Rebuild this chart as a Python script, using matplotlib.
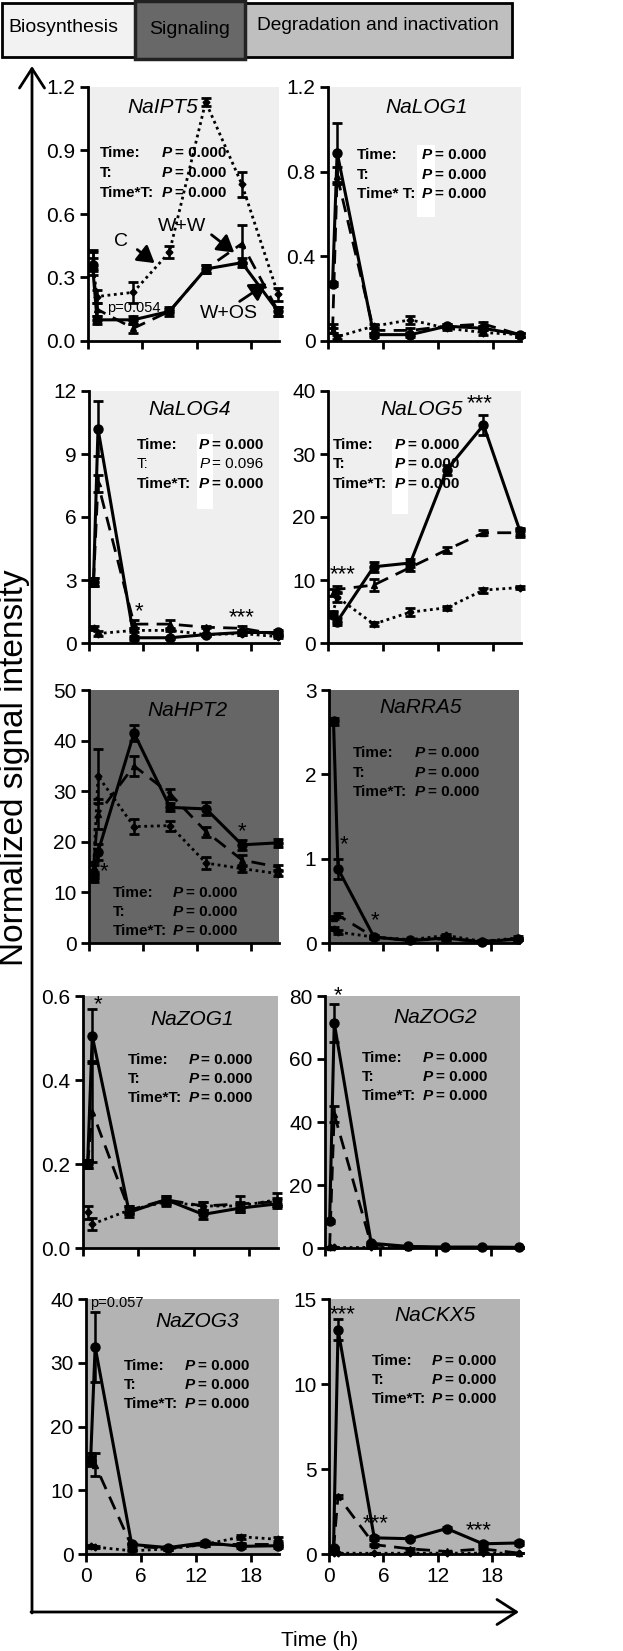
import matplotlib.pyplot as plt
from matplotlib.patches import Rectangle

plt.rcParams['font.family'] = ['Liberation Sans', 'DejaVu Sans']

# sampling times (h)
hours = [0.5, 1, 5, 9, 13, 17, 21]

# --- Biosynthesis ---
ipt5_c = [0.37, 0.21, 0.23, 0.42, 1.13, 0.74, 0.22]
ipt5_c_err = [0.06, 0.03, 0.05, 0.03, 0.02, 0.06, 0.03]
ipt5_ww = [0.38, 0.15, 0.06, 0.14, 0.34, 0.46, 0.14]
ipt5_ww_err = [0.04, 0.03, 0.02, 0.02, 0.02, 0.09, 0.02]
ipt5_wos = [0.36, 0.10, 0.10, 0.14, 0.34, 0.37, 0.14]
ipt5_wos_err = [0.03, 0.02, 0.02, 0.01, 0.02, 0.02, 0.02]

log1_c = [0.06, 0.02, 0.07, 0.10, 0.06, 0.04, 0.03]
log1_c_err = [0.02, 0.01, 0.01, 0.02, 0.01, 0.01, 0.01]
log1_ww = [0.05, 0.78, 0.05, 0.05, 0.07, 0.08, 0.03]
log1_ww_err = [0.01, 0.04, 0.01, 0.01, 0.01, 0.01, 0.01]
log1_wos = [0.27, 0.89, 0.03, 0.03, 0.07, 0.06, 0.03]
log1_wos_err = [0.01, 0.14, 0.01, 0.01, 0.01, 0.01, 0.01]

log4_c = [0.7, 0.45, 0.6, 0.6, 0.4, 0.45, 0.3]
log4_c_err = [0.1, 0.1, 0.1, 0.05, 0.05, 0.05, 0.05]
log4_ww = [2.9, 7.6, 0.9, 0.9, 0.75, 0.7, 0.4]
log4_ww_err = [0.2, 0.4, 0.2, 0.2, 0.05, 0.1, 0.05]
log4_wos = [2.9, 10.2, 0.25, 0.25, 0.4, 0.5, 0.5]
log4_wos_err = [0.2, 1.3, 0.1, 0.05, 0.05, 0.1, 0.1]

log5_c = [4.6, 7.3, 3.0, 4.9, 5.6, 8.4, 8.8]
log5_c_err = [0.4, 0.8, 0.3, 0.6, 0.3, 0.4, 0.3]
log5_ww = [8.0, 8.5, 9.2, 12.0, 14.8, 17.5, 17.5]
log5_ww_err = [0.6, 0.5, 0.9, 0.6, 0.5, 0.4, 0.6]
log5_wos = [4.5, 3.4, 12.1, 12.7, 27.5, 34.6, 17.7]
log5_wos_err = [0.4, 0.5, 0.8, 0.6, 0.8, 1.6, 0.6]

# --- Signaling ---
hpt2_c = [14.5, 33.0, 23.0, 23.2, 15.8, 14.7, 13.7]
hpt2_c_err = [1.0, 5.3, 1.5, 1.0, 1.2, 0.6, 0.5]
hpt2_ww = [15.0, 25.5, 35.0, 29.5, 22.0, 16.4, 15.0]
hpt2_ww_err = [1.0, 3.0, 2.0, 1.0, 1.0, 1.0, 0.5]
hpt2_wos = [12.8, 18.0, 41.5, 26.8, 26.5, 19.4, 19.8]
hpt2_wos_err = [0.8, 1.5, 1.5, 0.8, 1.3, 1.0, 0.8]

rra5_c = [0.17, 0.13, 0.07, 0.04, 0.09, 0.02, 0.06]
rra5_c_err = [0.02, 0.02, 0.01, 0.01, 0.02, 0.01, 0.02]
rra5_ww = [0.30, 0.33, 0.07, 0.03, 0.05, 0.02, 0.05]
rra5_ww_err = [0.02, 0.02, 0.01, 0.01, 0.01, 0.01, 0.01]
rra5_wos = [2.63, 0.88, 0.07, 0.03, 0.06, 0.01, 0.05]
rra5_wos_err = [0.04, 0.12, 0.02, 0.01, 0.02, 0.01, 0.01]

# --- Degradation and inactivation ---
zog1_c = [0.085, 0.057, 0.09, 0.11, 0.10, 0.10, 0.115]
zog1_c_err = [0.015, 0.015, 0.01, 0.01, 0.01, 0.01, 0.015]
zog1_ww = [0.20, 0.325, 0.09, 0.115, 0.10, 0.105, 0.11]
zog1_ww_err = [0.01, 0.12, 0.01, 0.01, 0.01, 0.02, 0.01]
zog1_wos = [0.20, 0.505, 0.085, 0.115, 0.08, 0.095, 0.105]
zog1_wos_err = [0.01, 0.065, 0.01, 0.01, 0.01, 0.01, 0.01]

zog2_c = [0.2, 0.2, 0.2, 0.2, 0.2, 0.2, 0.2]
zog2_c_err = [0.1, 0.1, 0.1, 0.1, 0.1, 0.1, 0.1]
zog2_ww = [0.3, 42.5, 1.0, 0.3, 0.2, 0.2, 0.2]
zog2_ww_err = [0.1, 2.5, 0.3, 0.1, 0.1, 0.1, 0.1]
zog2_wos = [8.5, 71.5, 1.5, 0.5, 0.3, 0.3, 0.2]
zog2_wos_err = [0.5, 6.0, 0.5, 0.1, 0.1, 0.1, 0.1]

zog3_c = [1.2, 1.1, 0.5, 0.8, 1.5, 2.7, 2.3]
zog3_c_err = [0.2, 0.2, 0.1, 0.1, 0.2, 0.3, 0.3]
zog3_ww = [15.3, 14.0, 1.2, 0.9, 1.5, 1.5, 1.5]
zog3_ww_err = [0.6, 1.8, 0.3, 0.2, 0.3, 0.3, 0.3]
zog3_wos = [14.6, 32.5, 1.5, 1.0, 1.8, 1.2, 1.3]
zog3_wos_err = [0.8, 5.5, 0.3, 0.2, 0.3, 0.3, 0.3]

ckx5_c = [0.05, 0.05, 0.04, 0.05, 0.05, 0.05, 0.05]
ckx5_c_err = [0.02, 0.02, 0.02, 0.02, 0.02, 0.02, 0.02]
ckx5_ww = [0.3, 3.4, 0.55, 0.3, 0.15, 0.3, 0.05]
ckx5_ww_err = [0.05, 0.1, 0.05, 0.05, 0.05, 0.05, 0.02]
ckx5_wos = [0.36, 13.2, 0.95, 0.9, 1.5, 0.6, 0.65]
ckx5_wos_err = [0.05, 0.6, 0.1, 0.1, 0.1, 0.1, 0.1]

BIO = '#efefef'
SIG = '#666666'
DEG = '#b3b3b3'

W, H = 623, 1651
fig = plt.figure(figsize=(W / 100, H / 100), dpi=100)


def panel(x0, x1, top, bottom):
    return fig.add_axes([x0 / W, 1 - bottom / H, (x1 - x0) / W, (bottom - top) / H])


def draw(ax, c, c_err, ww, ww_err, wos, wos_err, yticks, ylabels, bg, xlabels=False):
    ax.set_facecolor(bg)
    common = dict(color='black', capsize=3.5, capthick=2, elinewidth=1.8, clip_on=False)
    ax.errorbar(hours, c, yerr=c_err, ls=(0, (1, 1.3)), lw=2, marker='D', ms=3.5, **common)
    ax.errorbar(hours, ww, yerr=ww_err, ls=(0, (5, 3)), lw=2, marker='^', ms=5, **common)
    ax.errorbar(hours, wos, yerr=wos_err, ls='-', lw=2.2, marker='o', ms=6.5, **common)
    ax.set_xlim(0, 21.1)
    ax.set_ylim(0, yticks[-1])
    ax.set_xticks([0, 6, 12, 18])
    if xlabels:
        ax.set_xticklabels(['0', '6', '12', '18'])
    else:
        ax.set_xticklabels([])
    ax.set_yticks(yticks)
    ax.set_yticklabels(ylabels)
    for s in ['top', 'right']:
        ax.spines[s].set_visible(False)
    for s in ['left', 'bottom']:
        ax.spines[s].set_linewidth(2)
    ax.tick_params(length=6, width=2, labelsize=15, pad=3)


def title(ax, name, x, y):
    ax.text(x, y, name, transform=ax.transAxes, ha='center', va='center',
            fontsize=15, style='italic')


def stats(ax, xt, xp, y0, labels=('Time:', 'T:', 'Time*T:'),
          pvals=('0.000', '0.000', '0.000'), weights=('bold', 'bold', 'bold'), dy=0.077):
    for i in range(3):
        y = y0 - i * dy
        w = weights[i]
        ax.text(xt, y, labels[i], transform=ax.transAxes, ha='left', va='center',
                fontsize=11, fontweight=w)
        ax.text(xp, y, 'P', transform=ax.transAxes, ha='left', va='center',
                fontsize=11, fontweight=w, style='italic')
        ax.annotate('= ' + pvals[i], (xp, y), xycoords='axes fraction',
                    xytext=(9.5, 0), textcoords='offset points', ha='left', va='center',
                    fontsize=11, fontweight=w)


def white_patch(ax, x, y, w, h):
    ax.add_patch(Rectangle((x, y), w, h, transform=ax.transAxes, facecolor='white',
                           edgecolor='none', zorder=0.5))


def star(ax, x, y, s):
    ax.text(x, y, s, ha='center', va='center', fontsize=16)


def pointer(ax, label, txy, start, end):
    ax.text(txy[0], txy[1], label, ha='center', va='center', fontsize=14)
    ax.annotate('', xy=end, xytext=start,
                arrowprops=dict(arrowstyle='-|>,head_length=0.5,head_width=0.3', lw=2,
                                color='black', mutation_scale=20))


# row 1
ax = panel(88, 279, 87, 341)
draw(ax, ipt5_c, ipt5_c_err, ipt5_ww, ipt5_ww_err, ipt5_wos, ipt5_wos_err,
     [0, 0.3, 0.6, 0.9, 1.2], ['0.0', '0.3', '0.6', '0.9', '1.2'], BIO)
title(ax, 'NaIPT5', 0.39, 0.92)
stats(ax, 0.063, 0.387, 0.74, dy=0.079)
pointer(ax, 'C', (3.7, 0.47), (5.2, 0.44), (7.6, 0.36))
pointer(ax, 'W+W', (10.4, 0.54), (13.4, 0.51), (16.4, 0.41))
pointer(ax, 'W+OS', (15.6, 0.13), (16.5, 0.18), (20.0, 0.28))
ax.text(2.1, 0.155, 'p=0.054', ha='left', va='center', fontsize=10.5)

ax = panel(328, 521, 87, 341)
draw(ax, log1_c, log1_c_err, log1_ww, log1_ww_err, log1_wos, log1_wos_err,
     [0, 0.4, 0.8, 1.2], ['0', '0.4', '0.8', '1.2'], BIO)
title(ax, 'NaLOG1', 0.51, 0.92)
white_patch(ax, 0.46, 0.49, 0.095, 0.28)
stats(ax, 0.15, 0.487, 0.732, labels=('Time:', 'T:', 'Time* T:'))

# row 2
ax = panel(89, 279, 391, 643)
draw(ax, log4_c, log4_c_err, log4_ww, log4_ww_err, log4_wos, log4_wos_err,
     [0, 3, 6, 9, 12], ['0', '3', '6', '9', '12'], BIO)
title(ax, 'NaLOG4', 0.53, 0.925)
white_patch(ax, 0.57, 0.53, 0.08, 0.3)
stats(ax, 0.25, 0.58, 0.786, pvals=('0.000', '0.096', '0.000'),
      weights=('bold', 'normal', 'bold'))
star(ax, 5.6, 1.5, '*')
star(ax, 17.0, 1.2, '***')

ax = panel(328, 521, 391, 643)
draw(ax, log5_c, log5_c_err, log5_ww, log5_ww_err, log5_wos, log5_wos_err,
     [0, 10, 20, 30, 40], ['0', '10', '20', '30', '40'], BIO)
title(ax, 'NaLOG5', 0.487, 0.925)
white_patch(ax, 0.33, 0.51, 0.085, 0.3)
stats(ax, 0.026, 0.347, 0.786)
star(ax, 1.6, 10.8, '***')
star(ax, 16.6, 38.0, '***')

# row 3
ax = panel(89, 279, 690, 943)
draw(ax, hpt2_c, hpt2_c_err, hpt2_ww, hpt2_ww_err, hpt2_wos, hpt2_wos_err,
     [0, 10, 20, 30, 40, 50], ['0', '10', '20', '30', '40', '50'], SIG)
title(ax, 'NaHPT2', 0.52, 0.92)
stats(ax, 0.126, 0.44, 0.198, dy=0.075)
star(ax, 17.0, 22.0, '*')
star(ax, 1.7, 14.0, '*')

ax = panel(329, 519, 690, 943)
draw(ax, rra5_c, rra5_c_err, rra5_ww, rra5_ww_err, rra5_wos, rra5_wos_err,
     [0, 1, 2, 3], ['0', '1', '2', '3'], SIG)
title(ax, 'NaRRA5', 0.48, 0.93)
stats(ax, 0.126, 0.453, 0.75)
star(ax, 1.7, 1.17, '*')
star(ax, 5.1, 0.27, '*')

# row 4
ax = panel(83, 278, 996, 1248)
draw(ax, zog1_c, zog1_c_err, zog1_ww, zog1_ww_err, zog1_wos, zog1_wos_err,
     [0, 0.2, 0.4, 0.6], ['0.0', '0.2', '0.4', '0.6'], DEG)
title(ax, 'NaZOG1', 0.56, 0.905)
stats(ax, 0.23, 0.54, 0.746, dy=0.075)
star(ax, 1.6, 0.58, '*')

ax = panel(325, 520, 996, 1248)
draw(ax, zog2_c, zog2_c_err, zog2_ww, zog2_ww_err, zog2_wos, zog2_wos_err,
     [0, 20, 40, 60, 80], ['0', '20', '40', '60', '80'], DEG)
title(ax, 'NaZOG2', 0.564, 0.913)
stats(ax, 0.19, 0.5, 0.754, dy=0.075)
star(ax, 1.4, 80.0, '*')

# row 5
ax = panel(86, 279, 1299, 1554)
draw(ax, zog3_c, zog3_c_err, zog3_ww, zog3_ww_err, zog3_wos, zog3_wos_err,
     [0, 10, 20, 30, 40], ['0', '10', '20', '30', '40'], DEG, xlabels=True)
title(ax, 'NaZOG3', 0.575, 0.91)
stats(ax, 0.197, 0.513, 0.737, dy=0.075)
ax.text(0.4, 39.3, 'p=0.057', ha='left', va='center', fontsize=10.5)

ax = panel(329, 520, 1299, 1554)
draw(ax, ckx5_c, ckx5_c_err, ckx5_ww, ckx5_ww_err, ckx5_wos, ckx5_wos_err,
     [0, 5, 10, 15], ['0', '5', '10', '15'], DEG, xlabels=True)
title(ax, 'NaCKX5', 0.555, 0.937)
stats(ax, 0.225, 0.539, 0.757, dy=0.075)
star(ax, 1.5, 14.1, '***')
star(ax, 5.1, 1.8, '***')
star(ax, 16.5, 1.35, '***')

# overlay: header boxes, big arrows, axis titles
ov = fig.add_axes([0, 0, 1, 1], zorder=-1)
ov.set_xlim(0, W)
ov.set_ylim(H, 0)
ov.axis('off')
ov.add_patch(Rectangle((2, 3), 133, 54, facecolor='#f2f2f2', edgecolor='black', lw=2))
ov.add_patch(Rectangle((245, 3), 267, 54, facecolor='#bfbfbf', edgecolor='black', lw=2))
ov.add_patch(Rectangle((135, 1), 110, 58, facecolor='#686868', edgecolor='#222222', lw=2.5))
ov.text(8, 28, 'Biosynthesis', ha='left', va='center', fontsize=14)
ov.text(190, 30, 'Signaling', ha='center', va='center', fontsize=14)
ov.text(378, 26, 'Degradation and inactivation', ha='center', va='center', fontsize=13.8)

arrow = dict(arrowstyle='->,head_length=0.7,head_width=0.45', lw=2, color='black',
             mutation_scale=20, shrinkA=0, shrinkB=0)
ov.annotate('', xy=(32, 66), xytext=(32, 1613), arrowprops=arrow)
ov.annotate('', xy=(519, 1612), xytext=(31, 1612), arrowprops=arrow)
ov.text(15, 768, 'Normalized signal intensity', rotation=90, ha='center', va='center',
        fontsize=24)
ov.text(320, 1640, 'Time (h)', ha='center', va='center', fontsize=15)

fig.savefig('out.png', dpi=100)
